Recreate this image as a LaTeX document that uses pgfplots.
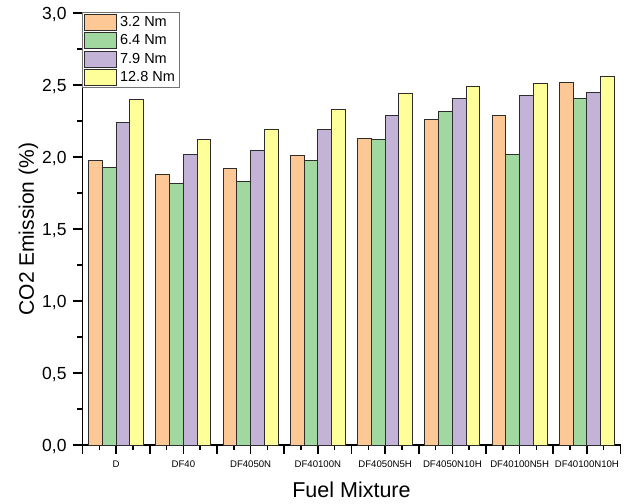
\documentclass[border=0pt]{standalone}
\usepackage{fontspec}
\setmainfont{Liberation Sans}
\usepackage{pgfplots}
\pgfplotsset{compat=1.18}
\definecolor{cA}{RGB}{253,200,150}
\definecolor{cB}{RGB}{160,216,160}
\definecolor{cC}{RGB}{195,180,215}
\definecolor{cD}{RGB}{255,255,153}
\definecolor{edge}{RGB}{45,45,45}
\pgfplotsset{sq legend/.style={legend image code/.code={\draw[##1] (0bp,-8bp) rectangle (32.4bp,8bp);}}}
\begin{document}
\begin{tikzpicture}
\path[use as bounding box] (-82.5bp,-59bp) rectangle (543.5bp,445bp);
\begin{axis}[
  at={(0,0)}, anchor=south west,
  scale only axis, width=538bp, height=431.7bp,
  xmin=-0.5, xmax=7.5, ymin=0, ymax=3,
  axis x line*=bottom, axis y line*=left,
  axis line style={line width=1.8bp, black},
  ybar=0pt, bar width=0.205,
  xtick={-0.5,0,0.5,1,1.5,2,2.5,3,3.5,4,4.5,5,5.5,6,6.5,7,7.5},
  xticklabels={{},D,{},DF40,{},DF4050N,{},DF40100N,{},DF4050N5H,{},DF4050N10H,{},DF40100N5H,{},DF40100N10H,{}},
  minor xtick={-0.25,0.25,...,7.25},
  ytick={0,0.5,...,3},
  minor ytick={0.25,0.75,...,2.75},
  xtick pos=bottom, ytick pos=left,
  tick align=inside,
  major tick length=-9bp, minor tick length=-5bp,
  major tick style={line width=1.6bp, black},
  minor tick style={line width=1.6bp, black},
  /pgf/number format/assume math mode=true,
  /pgf/number format/fixed, /pgf/number format/fixed zerofill,
  /pgf/number format/precision=1, /pgf/number format/use comma,
  yticklabel style={font=\fontsize{17.5bp}{20bp}\selectfont, anchor=east, inner sep=0pt, text height=12.5bp, text depth=0pt, xshift=-15.8bp},
  xticklabel style={font=\fontsize{9.6bp}{11bp}\selectfont, anchor=center, inner sep=0pt, yshift=-19bp},
  ylabel={CO2 Emission (\%)},
  xlabel={Fuel Mixture},
  ylabel style={font=\fontsize{21bp}{24bp}\selectfont, at={(axis description cs:-0.1004,0.5)}, anchor=center},
  xlabel style={font=\fontsize{21.5bp}{24bp}\selectfont, at={(axis description cs:0.5,-0.1042)}, anchor=center},
  legend style={at={(axis description cs:0,1)}, anchor=north west, xshift=-0.5bp, yshift=1.6bp,
    draw=black!55, line width=0.8bp, inner xsep=1.5bp, inner ysep=1.5bp,
    row sep=1.5bp, column sep=0pt,
    font=\fontsize{14.5bp}{16bp}\selectfont,
    nodes={inner xsep=2.8bp, inner ysep=0pt}},
  legend cell align=left,
  clip=false,
]
\addplot[fill=cA, draw=edge, line width=1bp, sq legend] coordinates {(0,1.98) (1,1.88) (2,1.92) (3,2.01) (4,2.13) (5,2.26) (6,2.29) (7,2.52)};
\addplot[fill=cB, draw=edge, line width=1bp, sq legend] coordinates {(0,1.93) (1,1.82) (2,1.83) (3,1.98) (4,2.12) (5,2.32) (6,2.02) (7,2.41)};
\addplot[fill=cC, draw=edge, line width=1bp, sq legend] coordinates {(0,2.24) (1,2.02) (2,2.05) (3,2.19) (4,2.29) (5,2.41) (6,2.43) (7,2.45)};
\addplot[fill=cD, draw=edge, line width=1bp, sq legend] coordinates {(0,2.40) (1,2.12) (2,2.19) (3,2.33) (4,2.44) (5,2.49) (6,2.51) (7,2.56)};
\legend{3.2 Nm, 6.4 Nm, 7.9 Nm, 12.8 Nm}
\end{axis}
\end{tikzpicture}
\end{document}
